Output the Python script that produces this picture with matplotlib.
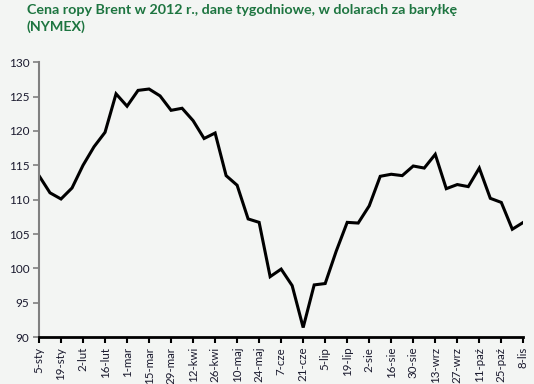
import matplotlib
matplotlib.use("Agg")
import matplotlib.pyplot as plt

tick_labels = ["5-sty", "19-sty", "2-lut", "16-lut", "1-mar", "15-mar", "29-mar",
               "12-kwi", "26-kwi", "10-maj", "24-maj", "7-cze", "21-cze", "5-lip",
               "19-lip", "2-sie", "16-sie", "30-sie", "13-wrz", "27-wrz", "11-paź",
               "25-paź", "8-lis"]
prices = [113.5, 111.0, 110.1, 111.7, 115.0, 117.7, 119.8, 125.4, 123.6, 125.9,
          126.1, 125.1, 123.0, 123.3, 121.5, 118.9, 119.7, 113.5, 112.1, 107.2,
          106.7, 98.8, 99.9, 97.5, 91.4, 97.6, 97.8, 102.5, 106.7, 106.6,
          109.1, 113.4, 113.7, 113.5, 114.9, 114.6, 116.6, 111.6, 112.2, 111.9,
          114.6, 110.2, 109.6, 105.7, 106.7]
title = "Cena ropy Brent w 2012 r., dane tygodniowe, w dolarach za baryłkę\n(NYMEX)"

bg = "#f3f5f3"
fig = plt.figure(figsize=(5.34, 3.84), dpi=100, facecolor=bg)
ax = fig.add_axes([0.073, 0.122, 0.907, 0.716], facecolor=bg)

x = list(range(len(prices)))
ax.plot(x, prices, color="black", lw=2.2, solid_joinstyle="miter")

ax.set_xlim(0, len(prices) - 1)
ax.set_ylim(90, 130)
ax.set_yticks(range(90, 131, 5))
ax.set_xticks(list(range(0, len(prices), 2)))
ax.set_xticklabels(tick_labels, rotation=90, fontsize=8.3, color="#1a1a2e",
                   family="Lato")
ax.tick_params(axis="y", labelsize=8.5, colors="#808080", labelcolor="#1a1a2e",
               length=4, width=1.2, direction="out", pad=3)
ax.tick_params(axis="x", length=4, width=1.5, color="black", direction="out", pad=3)
for t in ax.get_yticklabels():
    t.set_family("Lato")

for s in ["top", "right"]:
    ax.spines[s].set_visible(False)
ax.spines["left"].set_color("#808080")
ax.spines["left"].set_linewidth(1.5)
ax.spines["bottom"].set_color("black")
ax.spines["bottom"].set_linewidth(2)

fig.text(0.05, 0.99, title, ha="left", va="top", fontsize=10.3,
         fontweight="bold", color="#1d7540", family="Lato", linespacing=1.4)

fig.savefig("out.png", dpi=100, facecolor=bg)
